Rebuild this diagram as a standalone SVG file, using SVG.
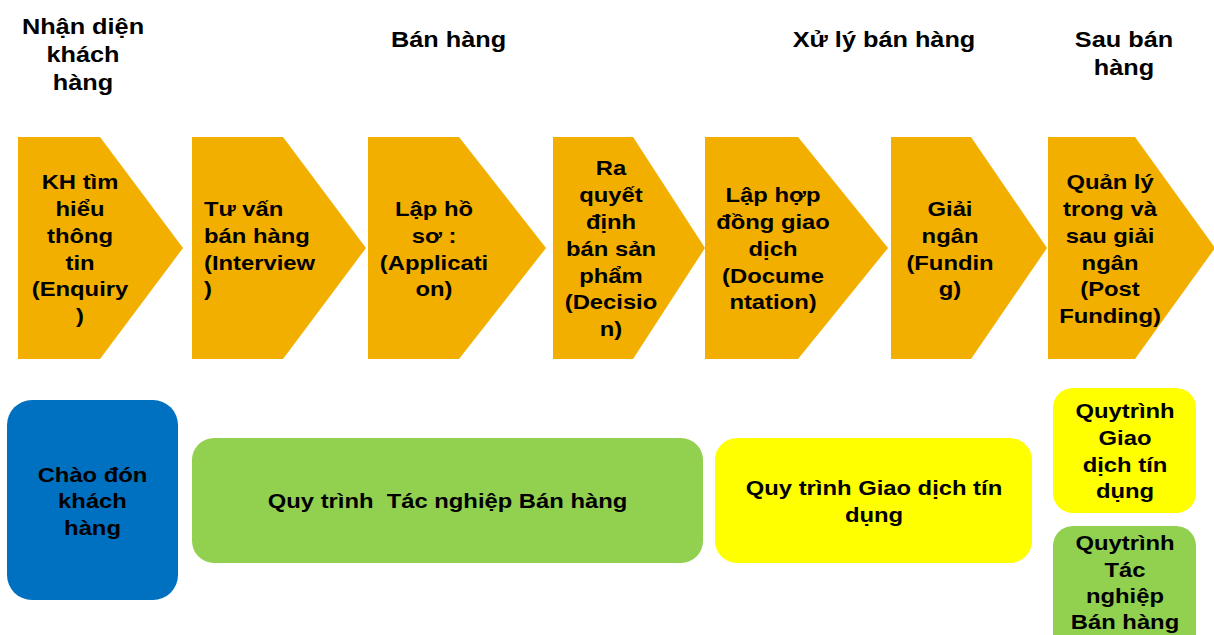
<svg xmlns="http://www.w3.org/2000/svg" width="1214" height="635" viewBox="0 0 1214 635">
  <style>
    text { font-family: "Liberation Sans", Arial, sans-serif; font-weight: bold; fill: #000; }
    .hd { font-size: 22px; text-anchor: middle; }
    .tx { font-size: 20px; text-anchor: middle; }
    .lt { font-size: 20px; text-anchor: start; }
    .step { fill: #F2AF00; }
    .blue { fill: #0070C0; }
    .green { fill: #92D050; }
    .yellow { fill: #FFFF00; }
  </style>
  <rect width="1214" height="635" fill="#fff"/>

  <!-- phase headings -->
  <g id="headings">
    <text class="hd" transform="translate(83 0) scale(1.15 1)"><tspan x="0" y="34">Nhận diện</tspan><tspan x="0" y="62">khách</tspan><tspan x="0" y="90">hàng</tspan></text>
    <text class="hd" transform="translate(448.5 0) scale(1.15 1)"><tspan x="0" y="47">Bán hàng</tspan></text>
    <text class="hd" transform="translate(884 0) scale(1.15 1)"><tspan x="0" y="47">Xử lý bán hàng</tspan></text>
    <text class="hd" transform="translate(1124 0) scale(1.15 1)"><tspan x="0" y="47">Sau bán</tspan><tspan x="0" y="75">hàng</tspan></text>
  </g>

  <!-- process steps (home-plate arrows) -->
  <g id="step-enquiry">
    <polygon class="step" points="18,137 100,137 183,248 100,359 18,359"/>
    <text class="tx" transform="translate(80 0) scale(1.19 1)"><tspan x="0" y="189.3">KH tìm</tspan><tspan x="0" y="216.1">hiểu</tspan><tspan x="0" y="242.9">thông</tspan><tspan x="0" y="269.7">tin</tspan><tspan x="0" y="296.5">(Enquiry</tspan><tspan x="0" y="323.3">)</tspan></text>
  </g>
  <g id="step-interview">
    <polygon class="step" points="192,137 283,137 366,248 283,359 192,359"/>
    <text class="lt" transform="translate(204 0) scale(1.19 1)"><tspan x="0" y="216.1">Tư vấn</tspan><tspan x="0" y="242.9">bán hàng</tspan><tspan x="0" y="269.7">(Interview</tspan><tspan x="0" y="296.5">)</tspan></text>
  </g>
  <g id="step-application">
    <polygon class="step" points="368,137 459,137 546,248 459,359 368,359"/>
    <text class="tx" transform="translate(434 0) scale(1.19 1)"><tspan x="0" y="216.1">Lập hồ</tspan><tspan x="0" y="242.9">sơ :</tspan><tspan x="0" y="269.7">(Applicati</tspan><tspan x="0" y="296.5">on)</tspan></text>
  </g>
  <g id="step-decision">
    <polygon class="step" points="553,137 633,137 705,248 633,359 553,359"/>
    <text class="tx" transform="translate(611 0) scale(1.19 1)"><tspan x="0" y="175.5">Ra</tspan><tspan x="0" y="202.3">quyết</tspan><tspan x="0" y="229.1">định</tspan><tspan x="0" y="255.9">bán sản</tspan><tspan x="0" y="282.7">phẩm</tspan><tspan x="0" y="309.5">(Decisio</tspan><tspan x="0" y="336.3">n)</tspan></text>
  </g>
  <g id="step-documentation">
    <polygon class="step" points="705,137 798,137 888,248 798,359 705,359"/>
    <text class="tx" transform="translate(773 0) scale(1.19 1)"><tspan x="0" y="202.3">Lập hợp</tspan><tspan x="0" y="229.1">đồng giao</tspan><tspan x="0" y="255.9">dịch</tspan><tspan x="0" y="282.7">(Docume</tspan><tspan x="0" y="309.5">ntation)</tspan></text>
  </g>
  <g id="step-funding">
    <polygon class="step" points="891,137 971,137 1047,248 971,359 891,359"/>
    <text class="tx" transform="translate(950 0) scale(1.19 1)"><tspan x="0" y="216.1">Giải</tspan><tspan x="0" y="242.9">ngân</tspan><tspan x="0" y="269.7">(Fundin</tspan><tspan x="0" y="296.5">g)</tspan></text>
  </g>
  <g id="step-post-funding">
    <polygon class="step" points="1048,137 1135,137 1215,248 1135,359 1048,359"/>
    <text class="tx" transform="translate(1110 0) scale(1.19 1)"><tspan x="0" y="189.3">Quản lý</tspan><tspan x="0" y="216.1">trong và</tspan><tspan x="0" y="242.9">sau giải</tspan><tspan x="0" y="269.7">ngân</tspan><tspan x="0" y="296.5">(Post</tspan><tspan x="0" y="323.3">Funding)</tspan></text>
  </g>

  <!-- supporting procedures -->
  <g id="proc-welcome">
    <rect class="blue" x="7" y="400" width="171" height="200" rx="25"/>
    <text class="tx" transform="translate(92.5 0) scale(1.19 1)"><tspan x="0" y="482">Chào đón</tspan><tspan x="0" y="508.5">khách</tspan><tspan x="0" y="535">hàng</tspan></text>
  </g>
  <g id="proc-sales">
    <rect class="green" x="192" y="438" width="511" height="125" rx="22"/>
    <text class="tx" transform="translate(447.5 0) scale(1.19 1)" xml:space="preserve"><tspan x="0" y="508">Quy trình  Tác nghiệp Bán hàng</tspan></text>
  </g>
  <g id="proc-credit">
    <rect class="yellow" x="715" y="438" width="317" height="125" rx="22"/>
    <text class="tx" transform="translate(874 0) scale(1.19 1)"><tspan x="0" y="495">Quy trình Giao dịch tín</tspan><tspan x="0" y="522">dụng</tspan></text>
  </g>
  <g id="proc-credit-post">
    <rect class="yellow" x="1053" y="388" width="143" height="125" rx="20"/>
    <text class="tx" transform="translate(1125 0) scale(1.19 1)"><tspan x="0" y="418">Quytrình</tspan><tspan x="0" y="445">Giao</tspan><tspan x="0" y="472">dịch tín</tspan><tspan x="0" y="498">dụng</tspan></text>
  </g>
  <g id="proc-sales-post">
    <rect class="green" x="1053" y="526" width="143" height="134" rx="20"/>
    <text class="tx" transform="translate(1125 0) scale(1.19 1)"><tspan x="0" y="550">Quytrình</tspan><tspan x="0" y="577">Tác</tspan><tspan x="0" y="603">nghiệp</tspan><tspan x="0" y="629">Bán hàng</tspan></text>
  </g>
</svg>
